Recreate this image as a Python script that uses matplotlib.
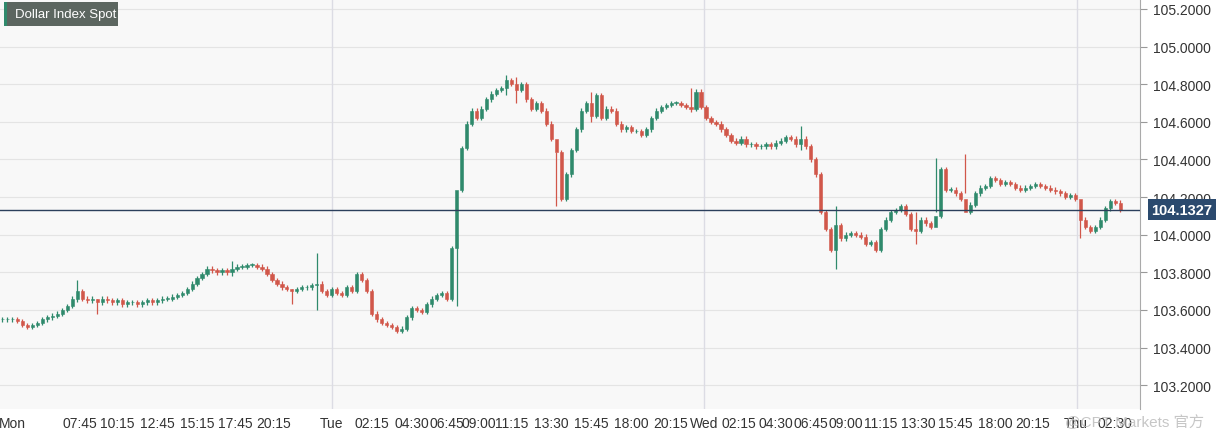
import matplotlib
matplotlib.use("Agg")
import matplotlib.pyplot as plt
from matplotlib.patches import Rectangle

plt.rcParams['font.family'] = ['Liberation Sans', 'Noto Sans CJK SC', 'DejaVu Sans']

# ---------------- DATA ---------------- #

closes = [
    103.55, 103.55, 103.55, 103.54, 103.52, 103.51,
    103.52, 103.53, 103.55, 103.56, 103.57, 103.58, 103.60, 103.62, 103.66,
    103.70, 103.66, 103.65, 103.66, 103.64, 103.66,
    103.65, 103.64, 103.65, 103.63, 103.64, 103.64, 103.63, 103.64, 103.65, 103.64,
    103.65, 103.66, 103.66, 103.67, 103.68, 103.69, 103.71,
    103.74, 103.77, 103.79, 103.82, 103.81, 103.80,
    103.81, 103.80, 103.82, 103.83, 103.83, 103.84, 103.84, 103.83, 103.82,
    103.79, 103.76, 103.74, 103.72, 103.71, 103.70, 103.71, 103.72,
    103.72, 103.73, 103.74, 103.70, 103.68, 103.71, 103.69, 103.68,
    103.72, 103.70, 103.79, 103.76, 103.70,
    103.58, 103.55, 103.53, 103.52, 103.51, 103.49, 103.50,
    103.56, 103.61, 103.60, 103.59, 103.63, 103.66, 103.68, 103.69, 103.66, 103.93,
    104.24, 104.46, 104.59, 104.66, 104.62, 104.67, 104.72, 104.75, 104.77, 104.78,
    104.82, 104.80, 104.77, 104.80, 104.72, 104.67, 104.70, 104.66, 104.59, 104.51,
    104.44, 104.19, 104.32, 104.45, 104.56, 104.66, 104.70, 104.63, 104.74, 104.62,
    104.67, 104.66, 104.59, 104.56, 104.57, 104.55, 104.55, 104.53, 104.56, 104.62,
    104.66, 104.68, 104.69, 104.70, 104.70, 104.69, 104.68, 104.67, 104.76, 104.68,
    104.62, 104.60, 104.59, 104.56, 104.53, 104.50, 104.49, 104.51, 104.48, 104.48,
    104.47, 104.47, 104.48, 104.47, 104.49, 104.50, 104.52, 104.51, 104.48, 104.51,
    104.47, 104.40, 104.32, 104.12, 104.03, 103.92, 104.05, 103.98, 104.00, 104.01,
    104.00, 103.99, 103.95, 103.96, 103.92, 104.03, 104.08, 104.12, 104.13, 104.15,
    104.11, 104.03, 104.02, 104.08, 104.06, 104.04, 104.10, 104.35, 104.24, 104.24,
    104.22, 104.19, 104.12, 104.16, 104.22, 104.25, 104.26, 104.30, 104.29, 104.27,
    104.28, 104.27, 104.25, 104.24, 104.25, 104.26, 104.27, 104.26, 104.25, 104.24,
    104.23, 104.22, 104.20, 104.21, 104.19, 104.08, 104.04, 104.02, 104.04, 104.08,
    104.14, 104.18, 104.17, 104.13,
]
first_open = 103.55

# notable wick extremes (bar index: (high, low))
spikes = {
    15: (103.76, 103.64),
    19: (103.66, 103.58),
    46: (103.86, 103.78),
    58: (103.71, 103.63),
    63: (103.90, 103.60),
    91: (104.00, 103.62),
    101: (104.85, 104.74),
    103: (104.84, 104.70),
    111: (104.44, 104.15),
    118: (104.76, 104.60),
    138: (104.78, 104.65),
    160: (104.58, 104.45),
    167: (104.15, 103.82),
    183: (104.12, 103.95),
    187: (104.41, 104.12),
    193: (104.43, 104.22),
    216: (104.10, 103.98),
}

tick_pos = [2, 15.6, 23, 31, 39, 46.6, 54.4, 66, 74, 82, 89, 95.4, 102, 110, 118,
            126, 134, 140.6, 147.6, 155, 162, 169, 176, 183.6, 191, 199, 206.4, 215, 223]
tick_labels = ["Mon", "07:45", "10:15", "12:45", "15:15", "17:45", "20:15", "Tue",
               "02:15", "04:30", "06:45", "09:00", "11:15", "13:30", "15:45", "18:00",
               "20:15", "Wed", "02:15", "04:30", "06:45", "09:00", "11:15", "13:30",
               "15:45", "18:00", "20:15", "Thu", "02:30"]
day_lines = [66, 140.6, 215.4]
y_ticks = [103.2, 103.4, 103.6, 103.8, 104.0, 104.2, 104.4, 104.6, 104.8, 105.0, 105.2]
last_price = 104.1327

UP = "#2f8a6c"
DOWN = "#d1574a"

# ---------------- PLOT ---------------- #

fig = plt.figure(figsize=(12.22, 4.35), dpi=100)
ax = fig.add_axes([0.0, 0.057, 0.933, 0.943])
ax.set_facecolor("#f8f8f8")
fig.patch.set_facecolor("white")

prev = first_open
for i, c in enumerate(closes):
    o = prev
    top, bot = max(o, c), min(o, c)
    hi, lo = spikes.get(i, (top + 0.012, bot - 0.012))
    col = UP if c >= o else DOWN
    ax.vlines(i, lo, hi, color=col, lw=0.9, zorder=3)
    ax.add_patch(Rectangle((i - 0.32, bot), 0.64, max(top - bot, 0.003),
                           facecolor=col, edgecolor=col, lw=0.4, zorder=4))
    prev = c

for yv in y_ticks:
    ax.axhline(yv, color="#e4e4e4", lw=0.8, zorder=1)
for xv in day_lines:
    ax.axvline(xv, color="#dcdce4", lw=1.0, zorder=1)

ax.axhline(last_price, color="#2b3f5c", lw=1.0, zorder=5)

ax.set_xlim(-0.5, 228)
ax.set_ylim(103.072, 105.253)

ax.yaxis.tick_right()
ax.set_yticks(y_ticks)
ax.set_yticklabels([f"{v:.4f}" for v in y_ticks], fontsize=10, color="#333333")
ax.tick_params(axis="y", length=5, color="#999999", pad=4)
ax.set_xticks(tick_pos)
ax.set_xticklabels(tick_labels, fontsize=10, color="#333333")
ax.tick_params(axis="x", length=0, pad=5)

for side in ["top", "left", "bottom"]:
    ax.spines[side].set_visible(False)
ax.spines["right"].set_color("#aaaaaa")

# last price tag
ax.annotate(f"{last_price:.4f}", xy=(1.0, last_price), xycoords=("axes fraction", "data"),
            xytext=(8, 0), textcoords="offset points", ha="left", va="center",
            fontsize=10.5, fontweight="bold", color="white", zorder=10,
            bbox=dict(boxstyle="square,pad=0.25", facecolor="#2b4a6e", edgecolor="none"),
            annotation_clip=False)

# title box
fig.patches.append(Rectangle((0.0033, 0.938), 0.0933, 0.0552, transform=fig.transFigure,
                             facecolor="#5c6660", edgecolor="none", zorder=5))
fig.patches.append(Rectangle((0.0033, 0.938), 0.0025, 0.0552, transform=fig.transFigure,
                             facecolor="#2f8a6c", edgecolor="none", zorder=6))
fig.text(0.0125, 0.9655, "Dollar Index Spot", fontsize=9.5, color="white", va="center",
         zorder=7)

# watermark
fig.text(0.985, 0.012, "@CPT Markets 官方", fontsize=11, color="#c0c0c0",
         ha="right", va="bottom", alpha=0.9)

fig.savefig("out.png", dpi=100)
